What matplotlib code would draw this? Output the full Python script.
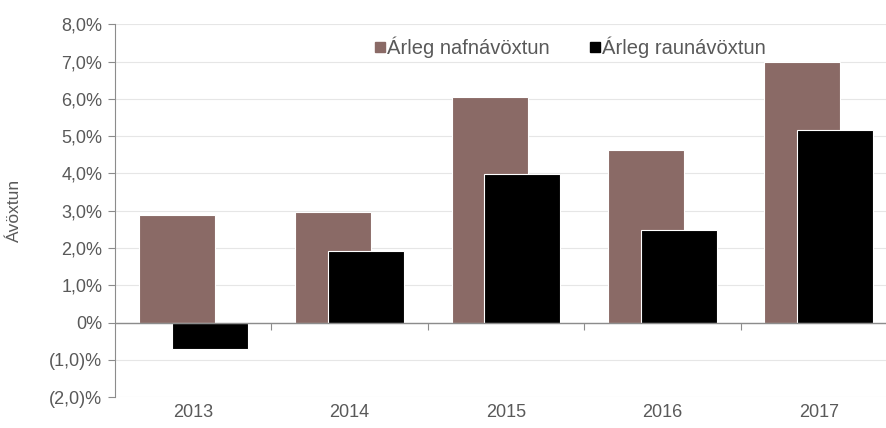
import matplotlib.pyplot as plt
import numpy as np
from matplotlib.lines import Line2D
from matplotlib.ticker import FuncFormatter

years = ["2013", "2014", "2015", "2016", "2017"]
nafn = [2.88, 2.97, 6.05, 4.63, 6.99]
raun = [-0.70, 1.93, 3.98, 2.49, 5.16]

BROWN = "#8a6a66"
GREY = "#595959"

plt.rcParams["font.family"] = ["Liberation Sans", "DejaVu Sans"]

fig = plt.figure(figsize=(8.87, 4.28), dpi=100)
ax = fig.add_axes([115 / 887, 1 - 397.3 / 428, 782 / 887, 373 / 428])

x = np.arange(len(years))
w = 0.486
off = 0.105
ax.bar(x - off, nafn, w, color=BROWN, edgecolor="white", linewidth=0.8, zorder=2)
ax.bar(x + off, raun, w, color="black", edgecolor="white", linewidth=0.8, zorder=3)

ax.set_xlim(-0.5, 4.5)
ax.set_ylim(-2, 8)
ax.set_yticks(np.arange(-2, 9, 1))


def pct(v, _):
    if v == 0:
        return "0%"
    s = f"{abs(v):.1f}".replace(".", ",")
    return f"({s})%" if v < 0 else f"{s}%"


ax.yaxis.set_major_formatter(FuncFormatter(pct))
ax.grid(axis="y", color="#e6e6e6", linewidth=0.8, zorder=0)
ax.set_axisbelow(True)

for s in ["top", "right", "bottom"]:
    ax.spines[s].set_visible(False)
ax.spines["left"].set_color("#8c8c8c")
ax.tick_params(axis="y", colors="#8c8c8c", labelcolor=GREY, labelsize=13, length=5, pad=4)
ax.set_xticks(x)
ax.set_xticklabels(years)
ax.tick_params(axis="x", length=0, labelcolor=GREY, labelsize=13, pad=5)

# zero line with category boundary ticks
ax.axhline(0, color="#8c8c8c", linewidth=1, zorder=4)
sec = ax.secondary_xaxis(0.2)
sec.set_xticks(np.arange(0.5, 4.5, 1))
sec.set_xticklabels([])
sec.tick_params(length=5, color="#8c8c8c", direction="out")
sec.spines["bottom"].set_visible(False)

ax.set_ylabel("Ávöxtun", color=GREY, fontsize=12.5, labelpad=20)

handles = [
    Line2D([], [], marker="s", color="none", markerfacecolor=BROWN, markeredgecolor=BROWN, markersize=7),
    Line2D([], [], marker="s", color="none", markerfacecolor="black", markeredgecolor="black", markersize=7),
]
fig.legend(handles, ["Árleg nafnávöxtun", "Árleg raunávöxtun"], loc="center",
           bbox_to_anchor=(0.643, 0.89), ncol=2, frameon=False, fontsize=14.5,
           labelcolor=GREY, handlelength=0.5, handletextpad=0.1, columnspacing=2.0)

fig.savefig("out.png", dpi=100)
